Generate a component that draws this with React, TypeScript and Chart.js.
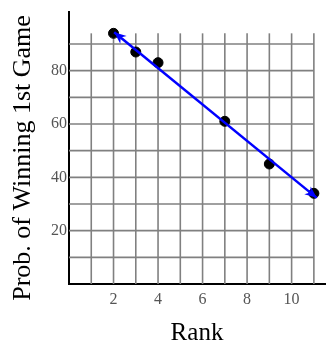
import React, { useEffect, useRef } from "react";
import { Chart, registerables } from "chart.js";

Chart.register(...registerables);

const rankValues = [2, 3, 4, 7, 9, 11];
const probValues = [94, 87, 83, 61, 45, 34];
const fitLineX = [2.03, 11.13];
const fitLineY = [94.4, 32.3];
const xTickValues = [2, 4, 6, 8, 10];
const yTickValues = [20, 40, 60, 80];
const xGridValues = [1, 2, 3, 4, 5, 6, 7, 8, 9, 10, 11];
const yGridValues = [10, 20, 30, 40, 50, 60, 70, 80, 90];
const xTitle = "Rank";
const yTitle = "Prob. of Winning 1st Game";

const FONT = "'Liberation Serif', 'Times New Roman', serif";

const gridPlugin = {
  id: "customGrid",
  beforeDatasetsDraw(chart: any) {
    const { ctx, scales } = chart;
    const xs = scales.x;
    const ys = scales.y;
    const gx = xGridValues[xGridValues.length - 1];
    const gy = 94;
    ctx.save();
    ctx.strokeStyle = "#808080";
    ctx.lineWidth = 1.6;
    for (const v of xGridValues) {
      const px = xs.getPixelForValue(v);
      ctx.beginPath();
      ctx.moveTo(px, ys.getPixelForValue(0));
      ctx.lineTo(px, ys.getPixelForValue(gy));
      ctx.stroke();
    }
    for (const v of yGridValues) {
      const py = ys.getPixelForValue(v);
      ctx.beginPath();
      ctx.moveTo(xs.getPixelForValue(0), py);
      ctx.lineTo(xs.getPixelForValue(gx), py);
      ctx.stroke();
    }
    ctx.restore();
  },
};

const arrowPlugin = {
  id: "arrows",
  afterDatasetsDraw(chart: any) {
    const meta = chart.getDatasetMeta(1);
    const pts = meta.data;
    if (!pts || pts.length < 2) return;
    const ctx = chart.ctx;
    const drawHead = (tip: any, from: any) => {
      const ang = Math.atan2(tip.y - from.y, tip.x - from.x);
      const len = 12;
      const half = 5;
      ctx.save();
      ctx.translate(tip.x, tip.y);
      ctx.rotate(ang);
      ctx.fillStyle = "#0000ff";
      ctx.beginPath();
      ctx.moveTo(0, 0);
      ctx.lineTo(-len, -half);
      ctx.lineTo(-len * 0.7, 0);
      ctx.lineTo(-len, half);
      ctx.closePath();
      ctx.fill();
      ctx.restore();
    };
    drawHead(pts[0], pts[1]);
    drawHead(pts[pts.length - 1], pts[pts.length - 2]);
  },
};

const yTitlePlugin = {
  id: "yTitle",
  afterDraw(chart: any) {
    const ctx = chart.ctx;
    ctx.save();
    ctx.translate(23, 158);
    ctx.rotate(-Math.PI / 2);
    ctx.fillStyle = "#000";
    ctx.font = `26px ${FONT}`;
    ctx.textAlign = "center";
    ctx.textBaseline = "middle";
    ctx.fillText(yTitle, 0, 0);
    ctx.restore();
  },
};

export default function App() {
  const ref = useRef<HTMLCanvasElement>(null);
  useEffect(() => {
    document.body.style.margin = "0";
    const chart = new Chart(ref.current as HTMLCanvasElement, {
      type: "scatter",
      data: {
        datasets: [
          {
            type: "scatter",
            data: rankValues.map((x, i) => ({ x, y: probValues[i] })),
            backgroundColor: "#000",
            borderColor: "#000",
            pointRadius: 5,
            order: 2,
          },
          {
            type: "line",
            data: fitLineX.map((x, i) => ({ x, y: fitLineY[i] })),
            borderColor: "#0000ff",
            borderWidth: 2.5,
            pointRadius: 0,
            fill: false,
            order: 1,
          } as any,
        ],
      },
      options: {
        animation: false,
        responsive: false,
        maintainAspectRatio: false,
        layout: { padding: { top: 12, right: 1, left: 0, bottom: 0 } },
        plugins: { legend: { display: false }, tooltip: { enabled: false } },
        scales: {
          x: {
            type: "linear",
            min: 0,
            max: 11.5,
            afterFit: (s: any) => {
              s.height = 62;
            },
            afterBuildTicks: (s: any) => {
              s.ticks = xTickValues.map((v) => ({ value: v }));
            },
            grid: { display: false, drawTicks: false },
            border: { display: true, color: "#000", width: 2 },
            ticks: {
              color: "#555",
              padding: 6,
              font: { family: FONT, size: 16 },
              maxRotation: 0,
            },
            title: {
              display: true,
              text: xTitle,
              color: "#000",
              padding: 0,
              font: { family: FONT, size: 25, lineHeight: 1 },
            },
          },
          y: {
            type: "linear",
            min: 0,
            max: 102,
            afterFit: (s: any) => {
              s.width = 69;
            },
            afterBuildTicks: (s: any) => {
              s.ticks = yTickValues.map((v) => ({ value: v }));
            },
            grid: { display: false, drawTicks: false },
            border: { display: true, color: "#000", width: 2 },
            ticks: {
              color: "#555",
              padding: 2,
              font: { family: FONT, size: 16 },
            },
          },
        },
      },
      plugins: [gridPlugin, arrowPlugin, yTitlePlugin],
    });
    return () => chart.destroy();
  }, []);
  return <canvas ref={ref} width={331} height={346} style={{ display: "block" }} />;
}
